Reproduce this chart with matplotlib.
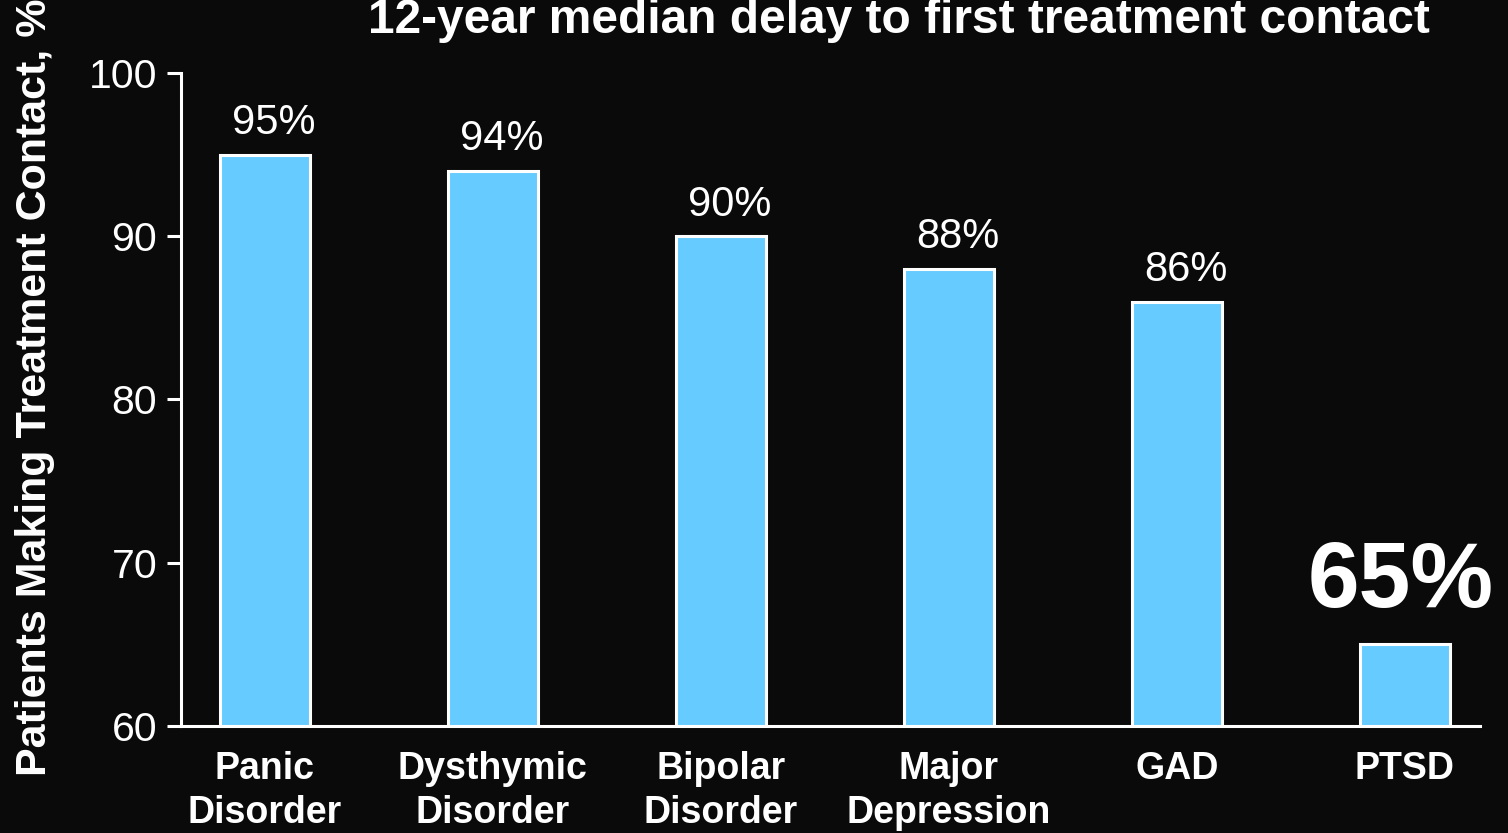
import numpy as np
import matplotlib.pyplot as plt

plt.rcParams['font.family'] = ['Liberation Sans', 'DejaVu Sans']

categories = ["Panic\nDisorder", "Dysthymic\nDisorder", "Bipolar\nDisorder",
              "Major\nDepression", "GAD", "PTSD"]
values = [95, 94, 90, 88, 86, 65]
yticks = [60, 70, 80, 90, 100]

bg = "#0a0a0a"
bar_color = "#66cbff"

fig = plt.figure(figsize=(15.08, 8.33), dpi=100, facecolor=bg)
ax = fig.add_axes([0.12, 0.1285, 0.8614, 0.7839], facecolor=bg)

x = np.arange(len(categories))
bars = ax.bar(x, [v - 60 for v in values], bottom=60, width=0.395,
              color=bar_color, edgecolor="white", linewidth=2.2, zorder=3)

ax.set_ylim(60, 100)
ax.set_xlim(-0.368, 5.329)
ax.set_yticks(yticks)
ax.set_xticks(x)
ax.set_xticklabels(categories, fontsize=27, fontweight="bold", color="white",
                   linespacing=1.3)
ax.tick_params(axis="x", length=0, pad=18)
ax.tick_params(axis="y", length=10, width=2.2, color="white", labelsize=29.5,
               labelcolor="white", pad=7)

for side in ["top", "right"]:
    ax.spines[side].set_visible(False)
for side in ["left", "bottom"]:
    ax.spines[side].set_color("white")
    ax.spines[side].set_linewidth(2.2)

# value labels; the last one is emphasised
for xi, v in zip(x[:-1], values[:-1]):
    ax.text(xi + 0.04, v + 0.7, f"{v}%", ha="center", va="bottom",
            fontsize=30, color="white")
ax.text(x[-1] - 0.02, values[-1] + 1.1, f"{values[-1]}%", ha="center",
        va="bottom", fontsize=67, fontweight="bold", color="white")

fig.text(0.596, 0.960, "12-year median delay to first treatment contact",
         ha="center", va="baseline", fontsize=34.5, fontweight="bold",
         color="white")
fig.text(0.023, 0.535, "Patients Making Treatment Contact, %", rotation=90,
         ha="center", va="center", fontsize=31, fontweight="bold",
         color="white")

fig.savefig("out.png", dpi=100, facecolor=bg)
